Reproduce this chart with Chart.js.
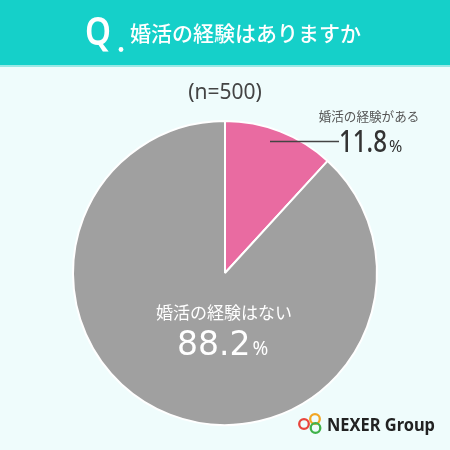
<!DOCTYPE html>
<html>
<head>
<meta charset="utf-8">
<script src="https://cdn.jsdelivr.net/npm/chart.js@4.4.0/dist/chart.umd.min.js"></script>
<style>
  html, body { margin: 0; padding: 0; background: #effcfc; }
  #wrap { width: 450px; height: 450px; position: relative; }
</style>
</head>
<body>
<div id="wrap"><canvas id="myChart" width="450" height="450"></canvas></div>
<script>
const title = '婚活の経験はありますか';
const sampleNote = '(n=500)';
const labels = ['婚活の経験がある', '婚活の経験はない'];
const values = [11.8, 88.2];
const colors = ['#e96ba1', '#a0a0a0'];

const JP = '"Noto Sans CJK JP", "Noto Sans", sans-serif';
const NUM = '"Noto Sans", "Noto Sans CJK JP", sans-serif';

// header band, n label, logo
const backdrop = {
    id: 'backdrop',
    beforeDraw(chart) {
        const ctx = chart.ctx;
        ctx.save();
        ctx.fillStyle = '#effcfc';
        ctx.fillRect(0, 0, 450, 450);
        ctx.fillStyle = '#15d0c9';
        ctx.fillRect(0, 0, 450, 65);
        ctx.fillStyle = '#9ae9e5';
        ctx.fillRect(0, 65, 450, 2);

        ctx.fillStyle = '#ffffff';
        ctx.textBaseline = 'alphabetic';
        ctx.textAlign = 'left';
        ctx.font = '600 39px ' + NUM;
        ctx.fillText('Q', 85, 45, 26);
        ctx.beginPath();
        ctx.arc(121, 49.5, 2.4, 0, Math.PI * 2);
        ctx.fill();
        ctx.font = '500 21px ' + JP;
        ctx.fillText(title, 130, 41, 232);

        ctx.fillStyle = '#444444';
        ctx.textAlign = 'center';
        ctx.font = '21px ' + NUM;
        ctx.fillText(sampleNote, 225, 99, 76);
        ctx.restore();
    },
    afterDraw(chart) {
        const ctx = chart.ctx;
        ctx.save();
        // logo rings
        const rings = [['#f2a623', 315, 419], ['#e8453c', 304, 424], ['#3fb24a', 315.5, 428]];
        ctx.lineWidth = 2.3;
        rings.forEach(r => {
            ctx.strokeStyle = r[0];
            ctx.beginPath();
            ctx.arc(r[1], r[2], 4.8, 0, Math.PI * 2);
            ctx.stroke();
        });
        ctx.fillStyle = '#222222';
        ctx.textAlign = 'left';
        ctx.font = 'bold 18px ' + NUM;
        ctx.fillText('NEXER Group', 327, 431, 108);
        ctx.restore();
    }
};

// slice labels
const sliceLabels = {
    id: 'sliceLabels',
    afterDatasetsDraw(chart) {
        const ctx = chart.ctx;
        ctx.save();

        // small slice: label outside with leader line
        ctx.strokeStyle = '#444444';
        ctx.lineWidth = 1.6;
        ctx.beginPath();
        ctx.moveTo(270, 141.5);
        ctx.lineTo(339, 141.5);
        ctx.stroke();

        ctx.fillStyle = '#555555';
        ctx.textAlign = 'center';
        ctx.font = '12.6px ' + JP;
        ctx.fillText(labels[0], 369, 121);
        ctx.fillStyle = '#333333';
        ctx.textAlign = 'left';
        ctx.font = '500 31px ' + NUM;
        ctx.fillText(values[0].toFixed(1), 339, 152, 48);
        ctx.font = '16px ' + NUM;
        ctx.fillText('%', 389, 152, 16);

        // big slice: label inside
        ctx.fillStyle = '#ffffff';
        ctx.textAlign = 'center';
        ctx.font = '17px ' + JP;
        ctx.fillText(labels[1], 224, 319);
        ctx.textAlign = 'left';
        ctx.font = '33px "DejaVu Sans", sans-serif';
        const t1 = values[1].toFixed(1);
        const w1 = Math.min(ctx.measureText(t1).width, 76);
        ctx.fillText(t1, 177, 355, 76);
        ctx.font = '19px ' + NUM;
        ctx.fillText('%', 177 + w1 + 2, 355, 20);
        ctx.restore();
    }
};

new Chart(document.getElementById('myChart').getContext('2d'), {
    type: 'pie',
    data: {
        labels: labels,
        datasets: [{
            data: values,
            backgroundColor: colors,
            borderColor: '#ffffff',
            borderWidth: 2
        }]
    },
    options: {
        responsive: false,
        animation: false,
        layout: { padding: { left: 72, right: 72, top: 119, bottom: 23 } },
        plugins: {
            legend: { display: false },
            tooltip: { enabled: false }
        }
    },
    plugins: [backdrop, sliceLabels]
});
</script>
</body>
</html>
